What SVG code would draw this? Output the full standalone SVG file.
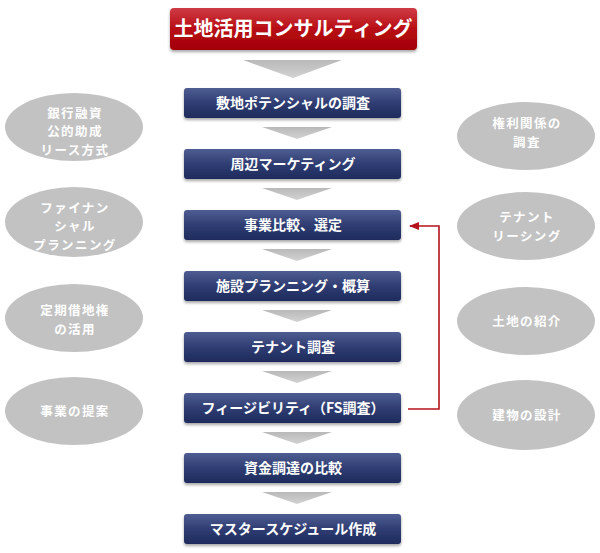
<svg xmlns="http://www.w3.org/2000/svg" width="600" height="553" viewBox="0 0 600 553">
<defs>
<linearGradient id="gRed" x1="0" y1="0" x2="0" y2="1">
<stop offset="0" stop-color="#cf3c45"/>
<stop offset="0.5" stop-color="#b80d14"/>
<stop offset="1" stop-color="#a30005"/>
</linearGradient>
<linearGradient id="gBlue" x1="0" y1="0" x2="0" y2="1">
<stop offset="0" stop-color="#4e5d92"/>
<stop offset="0.5" stop-color="#2f3d73"/>
<stop offset="1" stop-color="#1e2b5c"/>
</linearGradient>
<linearGradient id="gArrow" x1="0" y1="0" x2="0" y2="1">
<stop offset="0" stop-color="#b9b9b9"/>
<stop offset="1" stop-color="#d2d2d2"/>
</linearGradient>
<filter id="shadow" x="-10%" y="-30%" width="120%" height="170%">
<feDropShadow dx="0" dy="2" stdDeviation="1.8" flood-color="#000" flood-opacity="0.35"/>
</filter>
<marker id="ah" markerWidth="10" markerHeight="10" refX="9" refY="5" orient="auto" markerUnits="userSpaceOnUse">
<path d="M0,1 L10,5 L0,9 z" fill="#b5121b"/>
</marker>
<style>
.title{fill:url(#gRed);filter:url(#shadow)}
.box{fill:url(#gBlue);filter:url(#shadow)}
.arrow{fill:url(#gArrow)}
.oval{fill:#c2c2c2}
text{font-family:"Noto Sans CJK JP","Noto Sans",sans-serif;font-weight:bold;fill:#fff;text-anchor:middle}
.tt{font-size:20px}
.bt{font-size:14px}
.ot{font-size:12.5px;font-weight:600;letter-spacing:1.4px}
.conn{fill:none;stroke:#b5121b;stroke-width:1.6}
</style>
</defs>

<g id="title">
<rect class="title" x="170" y="8" width="247" height="42" rx="4"/>
<text class="tt" x="293" y="36">土地活用コンサルティング</text>
</g>

<g id="flow-arrows">
<path class="arrow" d="M243,60 H342 L293,78 Z"/>
<path class="arrow" d="M262,127 H332 L297,139 Z"/>
<path class="arrow" d="M262,188 H332 L297,200 Z"/>
<path class="arrow" d="M262,249 H332 L297,261 Z"/>
<path class="arrow" d="M262,310 H332 L297,322 Z"/>
<path class="arrow" d="M262,371 H332 L297,383 Z"/>
<path class="arrow" d="M262,432 H332 L297,444 Z"/>
<path class="arrow" d="M262,492 H332 L297,504 Z"/>
</g>

<g id="step1"><rect class="box" x="184" y="88" width="217" height="30" rx="3"/><text class="bt" x="293" y="108">敷地ポテンシャルの調査</text></g>
<g id="step2"><rect class="box" x="184" y="149" width="217" height="30" rx="3"/><text class="bt" x="293" y="169">周辺マーケティング</text></g>
<g id="step3"><rect class="box" x="184" y="210" width="217" height="30" rx="3"/><text class="bt" x="293" y="230">事業比較、選定</text></g>
<g id="step4"><rect class="box" x="184" y="271" width="217" height="30" rx="3"/><text class="bt" x="293" y="291">施設プランニング・概算</text></g>
<g id="step5"><rect class="box" x="184" y="332" width="217" height="30" rx="3"/><text class="bt" x="293" y="352">テナント調査</text></g>
<g id="step6"><rect class="box" x="184" y="393" width="217" height="30" rx="3"/><text class="bt" x="293" y="413">フィージビリティ（FS調査）</text></g>
<g id="step7"><rect class="box" x="184" y="453" width="217" height="30" rx="3"/><text class="bt" x="293" y="473">資金調達の比較</text></g>
<g id="step8"><rect class="box" x="184" y="514" width="217" height="30" rx="3"/><text class="bt" x="293" y="534">マスタースケジュール作成</text></g>

<g id="connectors">
<path class="conn" d="M408,409 H439 V226 H410" marker-end="url(#ah)"/>
</g>

<g id="left1"><ellipse class="oval" cx="74" cy="127" rx="69" ry="34"/>
<text class="ot" x="75" y="117.5">銀行融資</text><text class="ot" x="75" y="136">公的助成</text><text class="ot" x="75" y="154.5">リース方式</text></g>
<g id="left2"><ellipse class="oval" cx="74" cy="222" rx="69" ry="35"/>
<text class="ot" x="75" y="212.5">ファイナン</text><text class="ot" x="75" y="231">シャル</text><text class="ot" x="75" y="249.5">プランニング</text></g>
<g id="left3"><ellipse class="oval" cx="74" cy="318" rx="69" ry="34"/>
<text class="ot" x="75" y="315">定期借地権</text><text class="ot" x="75" y="334">の活用</text></g>
<g id="left4"><ellipse class="oval" cx="74" cy="411" rx="69" ry="34"/>
<text class="ot" x="75" y="416">事業の提案</text></g>

<g id="right1"><ellipse class="oval" cx="526" cy="136" rx="69" ry="34"/>
<text class="ot" x="527" y="128">権利関係の</text><text class="ot" x="527" y="147">調査</text></g>
<g id="right2"><ellipse class="oval" cx="526" cy="226" rx="69" ry="34"/>
<text class="ot" x="527" y="222">テナント</text><text class="ot" x="527" y="241">リーシング</text></g>
<g id="right3"><ellipse class="oval" cx="526" cy="321" rx="69" ry="34"/>
<text class="ot" x="527" y="326">土地の紹介</text></g>
<g id="right4"><ellipse class="oval" cx="526" cy="415" rx="69" ry="35"/>
<text class="ot" x="527" y="420">建物の設計</text></g>
</svg>
